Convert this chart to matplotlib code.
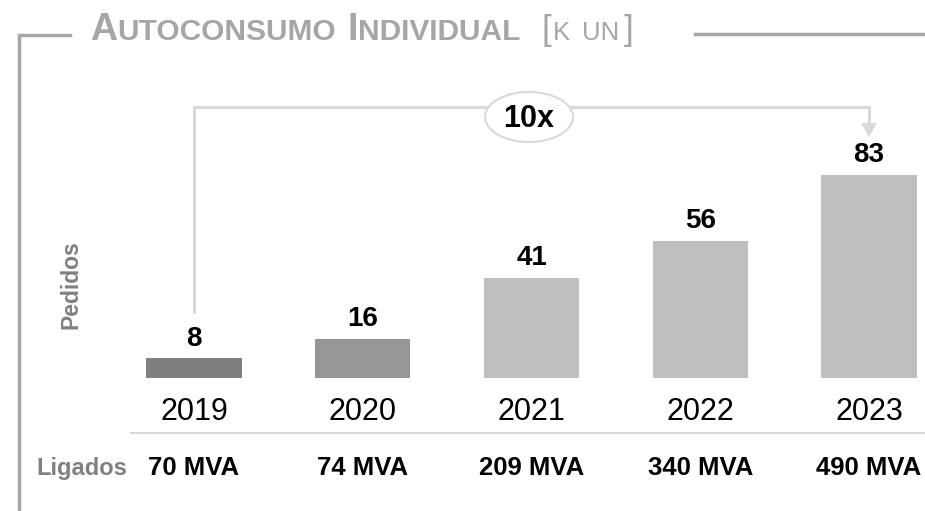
import matplotlib
matplotlib.use("Agg")
import matplotlib.pyplot as plt
from matplotlib.patches import Ellipse, Polygon
from matplotlib.transforms import blended_transform_factory
from matplotlib.lines import Line2D

plt.rcParams['font.family'] = ['Liberation Sans', 'DejaVu Sans']

# data
years = ['2019', '2020', '2021', '2022', '2023']
pedidos = [8, 16, 41, 56, 83]
ligados = ['70 MVA', '74 MVA', '209 MVA', '340 MVA', '490 MVA']
bar_colors = ['#7f7f7f', '#969696', '#bfbfbf', '#bfbfbf', '#bfbfbf']
growth_label = '10x'

W, H = 925, 511
fig = plt.figure(figsize=(W / 100, H / 100), dpi=100)
ax = fig.add_axes([0, 0, 1, 1])
ax.axis('off')

# map index/value units onto the canvas so bars land where the reference has them
step = 168.75
ax.set_xlim(-194 / step, (W - 194) / step)
py = 2.45
base = H - 378
ax.set_ylim(-base / py, (H - base) / py)

def fx(x):
    return x / W

def fy(y):
    return 1 - y / H

xs = list(range(len(years)))
ax.bar(xs, pedidos, width=0.563, color=bar_colors)

for x, v in zip(xs, pedidos):
    ax.annotate(str(v), (x, v), xytext=(0, 9), textcoords='offset points',
                ha='center', va='baseline', fontsize=20, fontweight='bold', color='black')

bt = blended_transform_factory(ax.transData, fig.transFigure)
for x, yr, lg in zip(xs, years, ligados):
    ax.text(x, fy(420), yr, transform=bt, ha='center', va='baseline', fontsize=22, color='black')
    ax.text(x, fy(475), lg, transform=bt, ha='center', va='baseline', fontsize=18.5,
            fontweight='bold', color='black')

# separator under the years
fig.add_artist(Line2D([fx(131), 1], [fy(433), fy(433)], color='#d9d9d9', lw=1.5))
fig.text(fx(127), fy(475), 'Ligados', ha='right', va='baseline', fontsize=17,
         fontweight='bold', color='#808080')
fig.text(fx(71), fy(285), 'Pedidos', ha='center', va='center', rotation=90, fontsize=16.5,
         fontweight='bold', color='#808080')

# growth bracket from first to last bar
lc = '#d9d9d9'
ax.plot([0, 0, 4, 4], [fy(313), fy(107), fy(107), fy(124)], transform=bt,
        color=lc, lw=2.2, solid_joinstyle='miter', solid_capstyle='butt')
x4 = ax.transData.transform((4, 0))[0]
fig.add_artist(Polygon([[fx(x4 - 8), fy(123)], [fx(x4 + 8), fy(123)], [fx(x4), fy(137)]],
                       closed=True, facecolor=lc, edgecolor='none', transform=fig.transFigure))
fig.add_artist(Ellipse((fx(529), fy(117)), 88 / W, 50 / H, transform=fig.transFigure,
                       facecolor='white', edgecolor=lc, lw=1.5))
fig.text(fx(529), fy(127), growth_label, ha='center', va='baseline', fontsize=22,
         fontweight='bold', color='black')

# frame lines
fc = '#a6a6a6'
fig.add_artist(Line2D([fx(19), fx(19), fx(70)], [0, fy(35), fy(35)], color=fc, lw=2.5,
                      solid_joinstyle='miter'))
fig.add_artist(Line2D([fx(695), 1], [fy(34), fy(34)], color=fc, lw=2.5))

# small-caps title built piece by piece
renderer = fig.canvas.get_renderer()

def chain(pieces, x0, y):
    x = x0
    for txt, size, weight in pieces:
        t = fig.text(fx(x), fy(y), txt, ha='left', va='baseline', fontsize=size,
                     fontweight=weight, color=fc)
        x = t.get_window_extent(renderer).x1
    return x

chain([('A', 27, 'bold'), ('UTOCONSUMO', 21.5, 'bold')], 90, 40)
chain([('I', 27, 'bold'), ('NDIVIDUAL', 21.5, 'bold')], 348, 40)
chain([('[', 25, 'normal')], 542, 40)
chain([('K', 18.5, 'normal')], 553, 40)
chain([('UN', 18.5, 'normal')], 582, 40)
chain([(']', 25, 'normal')], 624, 40)

fig.savefig('out.png', dpi=100)
